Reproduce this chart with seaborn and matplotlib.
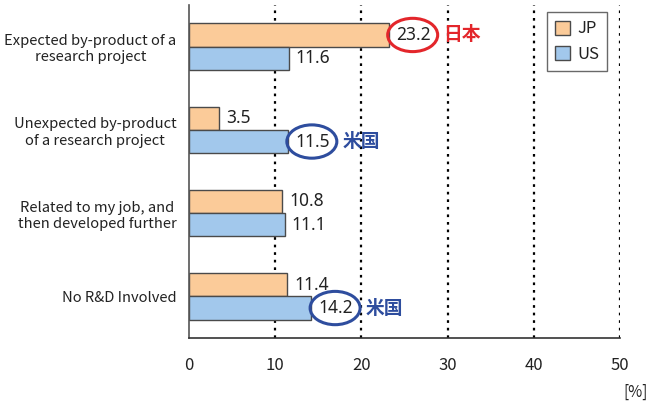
import matplotlib
matplotlib.use("Agg")
import matplotlib.pyplot as plt
import seaborn as sns
import pandas as pd
from matplotlib.patches import Ellipse

categories = ["Expected by-product of a\nresearch project",
              "Unexpected by-product\nof a research project",
              "Related to my job, and\nthen developed further",
              "No R&D Involved"]
jp_values = [23.2, 3.5, 10.8, 11.4]
us_values = [11.6, 11.5, 11.1, 14.2]
series = ["JP", "US"]
x_ticks = [0, 10, 20, 30, 40, 50]

# highlighted labels: (series index, category index, note text, colour)
highlights = [(0, 0, "日本", "#E3262B"), (1, 1, "米国", "#2E4D9E"), (1, 3, "米国", "#2E4D9E")]

df = pd.DataFrame({
    "category": categories * 2,
    "country": ["JP"] * 4 + ["US"] * 4,
    "value": jp_values + us_values,
})

sns.set_style("white")
plt.rcParams["font.family"] = ["Noto Sans CJK JP", "DejaVu Sans"]

fig = plt.figure(figsize=(6.5, 4.03), dpi=100)
ax = fig.add_axes([189 / 650, 1 - 338 / 403, 431 / 650, 333 / 403])

sns.barplot(data=df, y="category", x="value", hue="country", orient="h",
            palette={"JP": "#FBCB99", "US": "#A2C8EC"}, width=0.56, saturation=1,
            edgecolor="#4a4a4a", linewidth=1.0, ax=ax, legend=True)

ax.set_xlim(0, 50)
ax.set_ylim(3.5, -0.5)
ax.set_xticks(x_ticks)
ax.set_xticklabels([str(t) for t in x_ticks], fontsize=12, color="#222222")
ax.tick_params(axis="x", length=0, pad=14)
ax.set_yticks(range(4))
ax.set_yticklabels(categories, fontsize=10.6, color="#222222", multialignment="center")
ax.tick_params(axis="y", which="major", length=0, pad=9)
ax.set_yticks([-0.5, 0.5, 1.5, 2.5, 3.5], minor=True)
ax.tick_params(axis="y", which="minor", length=5, width=1, color="#444444", direction="out")
ax.set_xlabel("")
ax.set_ylabel("")

for x in x_ticks[1:]:
    ax.axvline(x, color="black", linestyle=(0, (1.2, 2.2)), linewidth=1.6, zorder=0)

for s in ["top", "right"]:
    ax.spines[s].set_visible(False)
ax.spines["left"].set_color("#555555")
ax.spines["bottom"].set_color("#333333")
ax.spines["left"].set_linewidth(1.2)
ax.spines["bottom"].set_linewidth(1.2)

hl = {(a, b): (t, c) for a, b, t, c in highlights}
for si, cont in enumerate(ax.containers):
    for ci, bar in enumerate(cont):
        w = bar.get_width()
        yc = bar.get_y() + bar.get_height() / 2
        ax.text(w + 0.8, yc, f"{w:.1f}", fontsize=12.5, color="#222222",
                ha="left", va="center", family=["Noto Sans", "DejaVu Sans"])
        if (si, ci) in hl:
            note, col = hl[(si, ci)]
            ax.add_patch(Ellipse((w + 2.75, yc), 5.8, 0.4, fill=False,
                                 edgecolor=col, linewidth=2.2, clip_on=False, zorder=5))
            ax.text(w + 6.3, yc, note, fontsize=13.5, fontweight="bold", color=col,
                    ha="left", va="center")

leg = ax.legend(loc="upper left", bbox_to_anchor=(358 / 431, 1 - 7 / 333),
                frameon=True, fontsize=12, handlelength=0.9, handleheight=0.9,
                handletextpad=0.4, borderpad=0.5, labelspacing=0.5, fancybox=False,
                borderaxespad=0)
leg.get_frame().set_edgecolor("#444444")
leg.get_frame().set_linewidth(1.0)
for t in leg.get_texts():
    t.set_color("#222222")

fig.text(648 / 650, 1 - 392 / 403, "[%]", fontsize=11, ha="right", va="center", color="#222222")

fig.savefig("out.png", dpi=100)
